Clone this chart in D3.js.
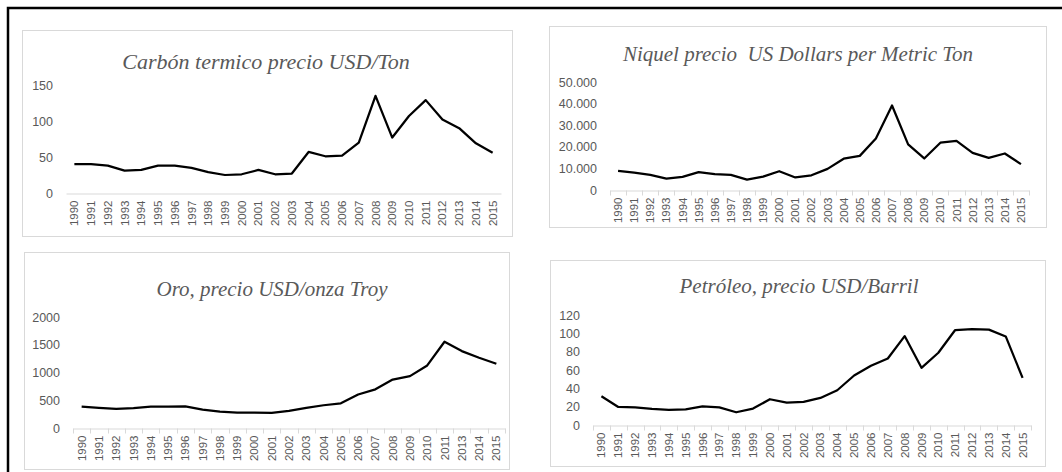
<!DOCTYPE html>
<html>
<head>
<meta charset="utf-8">
<script src="https://cdn.jsdelivr.net/npm/d3@7"></script>
<style>
  body { margin: 0; background: #fff; }
  svg { display: block; }
  .tick text { font-family: "Liberation Sans", Arial, sans-serif; fill: #595959; }
  .title { font-family: "Liberation Serif", "DejaVu Serif", "Times New Roman", serif; font-style: italic; fill: #595959; white-space: pre; }
</style>
</head>
<body>
<svg id="chart" width="1062" height="472"></svg>
<script>
const years = ['1990', '1991', '1992', '1993', '1994', '1995', '1996', '1997', '1998', '1999',
    '2000', '2001', '2002', '2003', '2004', '2005', '2006', '2007', '2008', '2009',
    '2010', '2011', '2012', '2013', '2014', '2015'];
// the gold chart has no 2012 column
const goldYears = years.filter(y => y !== '2012');

const coalValues = [40, 40, 38, 31, 32, 38, 38, 35, 29, 25, 26, 32, 26, 27, 57, 51, 52, 70,
    135, 77, 107, 129, 102, 90, 69, 56];
const nickelValues = [8900, 8000, 7000, 5300, 6100, 8300, 7300, 7000, 4800, 6200, 8700, 5800,
    6800, 9800, 14500, 15800, 23800, 39100, 21100, 14600, 21900, 22700, 17200, 14900, 16900, 12000];
const goldValues = [384, 362, 344, 360, 384, 384, 388, 331, 294, 279, 279, 271, 310, 363, 410,
    445, 604, 697, 872, 935, 1127, 1554, 1386, 1265, 1157];
const oilValues = [31.4, 19.7, 19.3, 17.5, 16.4, 17.1, 20.4, 19.3, 13.9, 17.9, 28.1, 24.4, 25.2,
    29.5, 37.9, 54, 64.6, 72.6, 97, 62.4, 78.8, 103.6, 104.7, 104, 96.6, 51.4];

const coalTicks = [0, 50, 100, 150];
const nickelTicks = [0, 10000, 20000, 30000, 40000, 50000];
const goldTicks = [0, 500, 1000, 1500, 2000];
const oilTicks = [0, 20, 40, 60, 80, 100, 120];

const titles = ['Carbón termico precio USD/Ton', 'Niquel precio  US Dollars per Metric Ton',
    'Oro, precio USD/onza Troy', 'Petróleo, precio USD/Barril'];

const esFormat = d3.formatLocale({decimal: ',', thousands: '.', grouping: [3], currency: ['', '']}).format(',');

const panels = [
    {title: titles[0], cats: years, vals: coalValues, ticks: coalTicks, fmt: d3.format('d'), tickMarks: false,
        box: [22, 30, 490, 206], x: [66, 501], y: [193, 85], titleX: 266, titleY: 69, titleSize: 22},
    {title: titles[1], cats: years, vals: nickelValues, ticks: nickelTicks, fmt: esFormat, tickMarks: true,
        box: [549, 26, 497, 201], x: [610, 1029], y: [190, 82], titleX: 798, titleY: 61, titleSize: 21},
    {title: titles[2], cats: goldYears, vals: goldValues, ticks: goldTicks, fmt: d3.format('d'), tickMarks: true,
        box: [24, 252, 485, 217], x: [73, 505], y: [428, 317], titleX: 272, titleY: 296, titleSize: 21},
    {title: titles[3], cats: years, vals: oilValues, ticks: oilTicks, fmt: d3.format('d'), tickMarks: true,
        box: [550, 260, 495, 206], x: [593, 1031], y: [425, 315], titleX: 799, titleY: 293, titleSize: 21},
];

const svg = d3.select('#chart');

// heavy outer frame, open at right and bottom
svg.append('rect')
    .attr('x', 8).attr('y', 8)
    .attr('width', 1100).attr('height', 500)
    .attr('fill', 'none').attr('stroke', '#000').attr('stroke-width', 2.5);

panels.forEach(p => {
    const g = svg.append('g');

    g.append('rect')
        .attr('x', p.box[0] + 0.5).attr('y', p.box[1] + 0.5)
        .attr('width', p.box[2]).attr('height', p.box[3])
        .attr('fill', '#fff').attr('stroke', '#d9d9d9');

    g.append('text').classed('title', true)
        .attr('x', p.titleX).attr('y', p.titleY)
        .attr('text-anchor', 'middle')
        .attr('xml:space', 'preserve')
        .style('font-size', p.titleSize + 'px')
        .text(p.title);

    const xScale = d3.scaleBand().domain(p.cats).range(p.x);
    const yScale = d3.scaleLinear().domain([0, d3.max(p.ticks)]).range(p.y);

    g.append('g')
        .attr('transform', `translate(${p.x[0] - 13}, 0)`)
        .call(d3.axisLeft(yScale).tickValues(p.ticks).tickFormat(p.fmt).tickSize(0).tickPadding(0))
        .call(ax => ax.select('.domain').remove())
        .selectAll('text').style('font-size', '12.5px');

    const xAxis = g.append('g')
        .attr('transform', `translate(0, ${p.y[0] + 0.5})`)
        .call(d3.axisBottom(xScale).tickSize(0).tickPadding(0).tickSizeOuter(0));
    xAxis.select('.domain').attr('stroke', '#d9d9d9');
    xAxis.selectAll('text')
        .style('font-size', '11.5px')
        .attr('text-anchor', 'end')
        .attr('transform', 'rotate(-90)')
        .attr('x', -7).attr('y', 0).attr('dy', '0.35em');

    if (p.tickMarks) {
        const edges = p.cats.map(c => xScale(c)).concat([p.x[1]]);
        xAxis.selectAll('.edge')
            .data(edges)
            .enter()
            .append('line')
            .attr('x1', d => Math.round(d) + 0.5).attr('x2', d => Math.round(d) + 0.5)
            .attr('y1', 0).attr('y2', 5)
            .attr('stroke', '#d9d9d9');
    }

    const line = d3.line()
        .x((d, i) => xScale(p.cats[i]) + xScale.bandwidth() / 2)
        .y(d => yScale(d));

    g.append('path')
        .datum(p.vals)
        .attr('d', line)
        .attr('fill', 'none')
        .attr('stroke', '#000')
        .attr('stroke-width', 2.25)
        .attr('stroke-linejoin', 'round');
});
</script>
</body>
</html>
